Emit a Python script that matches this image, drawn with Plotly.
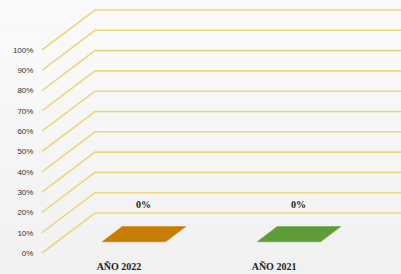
import plotly.graph_objects as go

# ---- data ----
categories = ["AÑO 2022", "AÑO 2021"]
values = [0, 0]  # percent
bar_colors = ["#C77C02", "#5E9C38"]
tick_values = [0, 10, 20, 30, 40, 50, 60, 70, 80, 90, 100]
tick_labels = ["0%", "10%", "20%", "30%", "40%", "50%", "60%", "70%", "80%", "90%", "100%"]

# ---- pseudo-3D projection settings (in axis units) ----
DEPTH_X = 0.342     # horizontal shift of the back wall (category units)
DEPTH_Y = 19.7      # vertical shift of the back wall (percent units)
FLOOR_LEFT = -0.497 # front-left edge of the floor
RIGHT_END = 2.2
BAR_W = 0.41
D0, D1 = 0.28, 0.66  # bar depth extent (fraction of floor depth)
GRID_COLOR = "#EDD67F"


def proj(x, v, d):
    return x + d * DEPTH_X, v + d * DEPTH_Y


fig = go.Figure()

# gridlines: front-left slant then back wall horizontal
for tv in tick_values:
    p0 = proj(FLOOR_LEFT, tv, 0)
    p1 = proj(FLOOR_LEFT, tv, 1)
    fig.add_trace(go.Scatter(
        x=[p0[0], p1[0], RIGHT_END], y=[p0[1], p1[1], p1[1]],
        mode="lines", line=dict(color=GRID_COLOR, width=1.6),
        hoverinfo="skip", showlegend=False))

# bars (top face of a box at its value; flat when value is 0)
for i, (cat, val, col) in enumerate(zip(categories, values, bar_colors)):
    xl, xr = i - BAR_W / 2, i + BAR_W / 2
    pts = [proj(xl, val, D0), proj(xr, val, D0), proj(xr, val, D1), proj(xl, val, D1), proj(xl, val, D0)]
    fig.add_trace(go.Scatter(
        x=[p[0] for p in pts], y=[p[1] for p in pts],
        mode="lines", fill="toself", fillcolor=col,
        line=dict(color=col, width=0.5),
        name=cat, showlegend=False, hoverinfo="skip"))
    if val > 0:
        front = [proj(xl, 0, D0), proj(xr, 0, D0), proj(xr, val, D0), proj(xl, val, D0), proj(xl, 0, D0)]
        fig.add_trace(go.Scatter(
            x=[p[0] for p in front], y=[p[1] for p in front],
            mode="lines", fill="toself", fillcolor=col, line=dict(color=col, width=0.5),
            showlegend=False, hoverinfo="skip"))
    cx, cy = proj(i, val, (D0 + D1) / 2)
    fig.add_annotation(
        x=cx, y=cy, yshift=30, text=f"<b>{val:.0f}%</b>", showarrow=False,
        font=dict(family="Liberation Serif", size=10, color="#222222"))

# soft vertical background gradient (decoration)
N_BANDS = 20
top_rgb, bot_rgb = (251, 251, 251), (240, 240, 240)
bg_shapes = []
for k in range(N_BANDS):
    t = k / (N_BANDS - 1)
    r, g, b = (round(top_rgb[j] + (bot_rgb[j] - top_rgb[j]) * t) for j in range(3))
    bg_shapes.append(dict(
        type="rect", xref="paper", yref="paper", layer="below",
        x0=-0.2, x1=1.1, y0=1.1 - (k + 1) * 1.3 / N_BANDS, y1=1.1 - k * 1.3 / N_BANDS,
        fillcolor=f"rgb({r},{g},{b})", line=dict(width=0)))

fig.update_layout(
    width=401, height=274,
    margin=dict(l=40, r=0, t=0, b=18),
    paper_bgcolor="#F5F5F5", plot_bgcolor="rgba(0,0,0,0)",
    shapes=bg_shapes,
    xaxis=dict(
        range=[-0.5097, 1.819], showgrid=False, zeroline=False, showline=False,
        tickvals=list(range(len(categories))),
        ticktext=[f"<b>{c}</b>" for c in categories],
        ticks="outside", ticklen=1, tickcolor="rgba(0,0,0,0)",
        tickfont=dict(family="Liberation Serif", size=10, color="#222222")),
    yaxis=dict(
        range=[-1.48, 124.63], showgrid=False, zeroline=False, showline=False,
        tickvals=tick_values, ticktext=tick_labels,
        ticks="outside", ticklen=4, tickcolor="rgba(0,0,0,0)",
        tickfont=dict(family="Liberation Sans", size=8, color="#333333")),
)

fig.write_html(
    "out.html",
    config={"displayModeBar": False},
    post_script="document.body.style.margin='0';document.body.style.background='#F5F5F5';",
)
